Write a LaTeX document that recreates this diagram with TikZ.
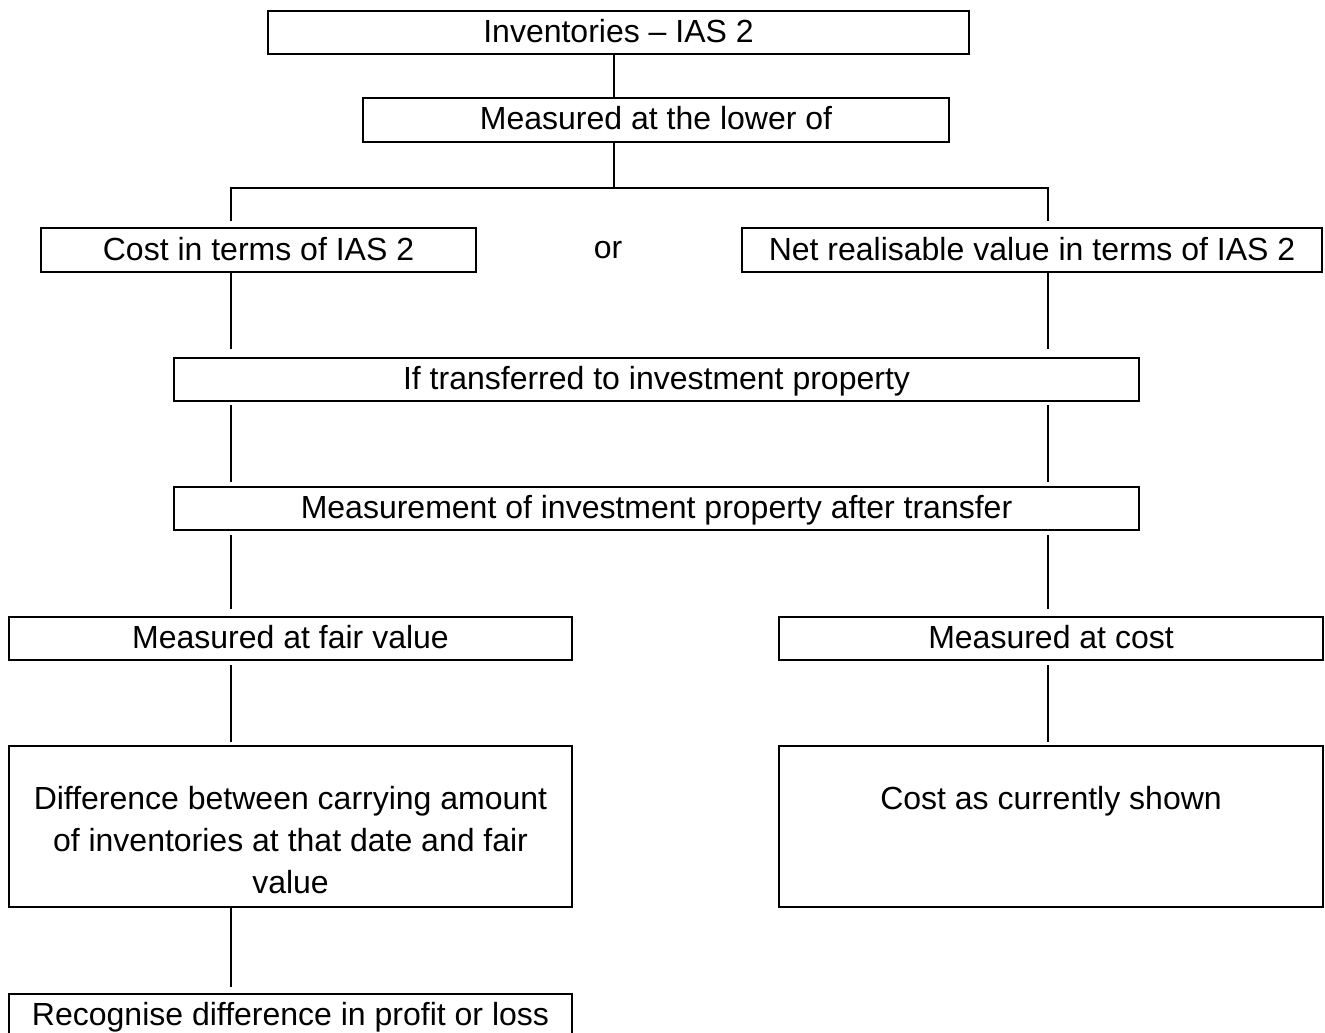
\documentclass[tikz,border=0pt]{standalone}
\usepackage{fontspec}
\setmainfont{Liberation Sans}
\begin{document}
\begin{tikzpicture}[x=0.5pt,y=-0.5pt,
  txt/.style={font=\fontsize{16}{21}\selectfont},
  box/.style={txt, draw=black, line width=1pt, inner sep=0pt,
    text height=12.5pt, text depth=2.5pt},
  link/.style={line width=1pt},
  lbl/.style={txt, inner sep=0pt, align=center}]
\useasboundingbox (0,0) rectangle (1325,1032);

% boxes
\node[box, minimum width=350.5pt, minimum height=21.5pt] (inv)   at (618.5,32.5) {Inventories – IAS 2};
\node[box, minimum width=293pt,   minimum height=22pt]   (lower) at (656,120)    {Measured at the lower of};
\node[box, minimum width=217.5pt, minimum height=22pt]   (cost)  at (258.5,250)  {Cost in terms of IAS 2};
\node[lbl] (or) at (608,250) {or};
\node[box, minimum width=290pt,   minimum height=22pt]   (nrv)   at (1032,250)   {Net realisable value in terms of IAS 2};
\node[box, minimum width=482.5pt, minimum height=21.5pt] (iftr)  at (656.5,379.5) {If transferred to investment property};
\node[box, minimum width=482.5pt, minimum height=21.5pt] (meas)  at (656.5,508.5) {Measurement of investment property after transfer};
\node[box, minimum width=281.5pt, minimum height=21.5pt] (fv)    at (290.5,638.5) {Measured at fair value};
\node[box, minimum width=272pt,   minimum height=21.5pt] (mc)    at (1051,638.5)  {Measured at cost};
\node[box, minimum width=281.5pt, minimum height=80.5pt] (diff)  at (290.5,826.5) {};
\node[box, minimum width=272pt,   minimum height=80.5pt] (cur)   at (1051,826.5)  {};
\node[lbl, anchor=north] (difftext) at (290.5,786) {Difference between carrying amount\\of inventories at that date and fair\\value};
\node[lbl, anchor=north] (curtext)  at (1051,786) {Cost as currently shown};
\node[box, minimum width=281.5pt, minimum height=21.5pt] (rec)   at (290.5,1015.5) {Recognise difference in profit or loss};

% connector columns
\coordinate (L) at (231,0);
\coordinate (R) at (1048,0);
\coordinate (M) at (614,0);
\coordinate (split) at (614,188);

\draw[link] (inv.south -| M) -- (lower.north -| M);
\draw[link] (lower.south -| M) -- (split);
\draw[link, shorten >=3pt] (split) -| (cost.north -| L);
\draw[link, shorten >=3pt] (split) -| (nrv.north -| R);

\draw[link, shorten >=4pt] (cost.south -| L) -- (iftr.north -| L);
\draw[link, shorten >=4pt] (nrv.south -| R) -- (iftr.north -| R);

\draw[link, shorten <=1.5pt, shorten >=2pt] (iftr.south -| L) -- (meas.north -| L);
\draw[link, shorten <=1.5pt, shorten >=2pt] (iftr.south -| R) -- (meas.north -| R);

\draw[link, shorten <=2pt, shorten >=3.5pt] (meas.south -| L) -- (fv.north -| L);
\draw[link, shorten <=2pt, shorten >=3.5pt] (meas.south -| R) -- (mc.north -| R);

\draw[link, shorten <=2pt, shorten >=1.5pt] (fv.south -| L) -- (diff.north -| L);
\draw[link, shorten <=2pt, shorten >=1.5pt] (mc.south -| R) -- (cur.north -| R);

\draw[link, shorten >=3pt] (diff.south -| L) -- (rec.north -| L);
\end{tikzpicture}
\end{document}
